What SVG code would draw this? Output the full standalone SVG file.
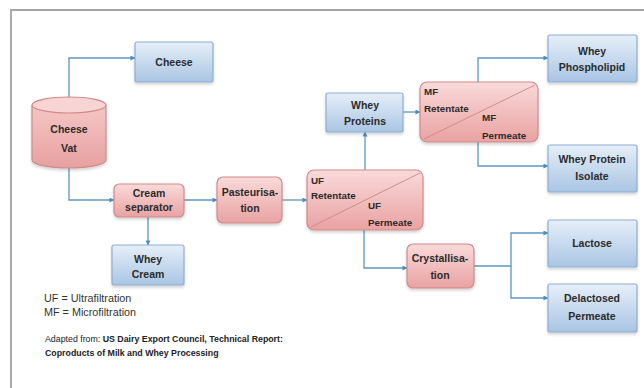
<svg xmlns="http://www.w3.org/2000/svg" width="644" height="388" viewBox="0 0 644 388">
  <defs>
    <linearGradient id="gBlue" x1="0" y1="0" x2="0" y2="1">
      <stop offset="0" stop-color="#e6eff9"/>
      <stop offset="1" stop-color="#a9c5e3"/>
    </linearGradient>
    <linearGradient id="gPink" x1="0" y1="0" x2="0" y2="1">
      <stop offset="0" stop-color="#fadada"/>
      <stop offset="1" stop-color="#e9a2a2"/>
    </linearGradient>
    <linearGradient id="gCyl" x1="0" y1="0" x2="0" y2="1">
      <stop offset="0" stop-color="#f6c6c6"/>
      <stop offset="1" stop-color="#e7a0a0"/>
    </linearGradient>
    <marker id="arr" viewBox="0 0 6 6" refX="5.5" refY="3" markerWidth="5" markerHeight="5" orient="auto" markerUnits="userSpaceOnUse">
      <path d="M0,0 L6,3 L0,6 z" fill="#4f8fbd"/>
    </marker>
    <filter id="sh" x="-10%" y="-10%" width="125%" height="130%">
      <feGaussianBlur in="SourceAlpha" stdDeviation="1.5"/>
      <feOffset dx="0" dy="2" result="b"/>
      <feComponentTransfer><feFuncA type="linear" slope="0.18"/></feComponentTransfer>
      <feMerge><feMergeNode/><feMergeNode in="SourceGraphic"/></feMerge>
    </filter>
  </defs>
  <style>
    .blue { fill: url(#gBlue); stroke: #8eaed3; stroke-width: 1.2; filter: url(#sh); }
    .pink { fill: url(#gPink); stroke: #cf8a8a; stroke-width: 1.2; filter: url(#sh); }
    .lbl { font-family: "Liberation Sans", Arial, sans-serif; font-weight: bold; font-size: 10.5px; fill: #2b2b2b; text-anchor: middle; }
    .lbs { font-family: "Liberation Sans", Arial, sans-serif; font-weight: bold; font-size: 9.8px; fill: #2b2b2b; }
    .conn path { fill: none; stroke: #5a98c4; stroke-width: 1.3; }
    .note { font-family: "Liberation Sans", Arial, sans-serif; font-size: 10.8px; fill: #333; }
    .ref { font-family: "Liberation Sans", Arial, sans-serif; font-size: 8.8px; fill: #222; }
  </style>

  <rect x="0" y="0" width="644" height="388" fill="#ffffff"/>
  <!-- page frame -->
  <path d="M11,388 V10 H644" fill="none" stroke="#a3a3a3" stroke-width="1.8"/>

  <!-- connectors -->
  <g id="connectors" class="conn">
    <path d="M69,97 V58 H135" marker-end="url(#arr)"/>
    <path d="M69,168 V200 H114" marker-end="url(#arr)"/>
    <path d="M184,200 H217" marker-end="url(#arr)"/>
    <path d="M282,200 H307" marker-end="url(#arr)"/>
    <path d="M148,217 V245" marker-end="url(#arr)"/>
    <path d="M365,170 V132" marker-end="url(#arr)"/>
    <path d="M403,112 H420" marker-end="url(#arr)"/>
    <path d="M478,82 V58 H548" marker-end="url(#arr)"/>
    <path d="M478,142 V166 H548" marker-end="url(#arr)"/>
    <path d="M364,230 V268 H407" marker-end="url(#arr)"/>
    <path d="M474,266 H511 V233 H548" marker-end="url(#arr)"/>
    <path d="M511,266 V298 H548" marker-end="url(#arr)"/>
  </g>

  <!-- Cheese Vat -->
  <g id="cheese-vat">
    <path d="M32,105 V160 A37,8 0 0 0 106,160 V105" fill="url(#gCyl)" stroke="#cf8a8a" stroke-width="1.2" filter="url(#sh)"/>
    <ellipse cx="69" cy="105" rx="37" ry="8" fill="#f9d4d4" stroke="#cf8a8a" stroke-width="1.2"/>
    <text class="lbl" x="69" y="133" font-size="12.5">Cheese</text>
    <text class="lbl" x="69" y="152" font-size="12.5">Vat</text>
  </g>

  <g id="cheese">
    <rect class="blue" x="135" y="42" width="78" height="40" rx="2"/>
    <text class="lbl" x="174" y="66">Cheese</text>
  </g>

  <g id="cream-separator">
    <rect class="pink" x="114" y="184" width="70" height="33" rx="5"/>
    <text class="lbl" x="149" y="197">Cream</text>
    <text class="lbl" x="149" y="211">separator</text>
  </g>

  <g id="whey-cream">
    <rect class="blue" x="112" y="245" width="72" height="40" rx="2"/>
    <text class="lbl" x="148" y="263">Whey</text>
    <text class="lbl" x="148" y="278">Cream</text>
  </g>

  <g id="pasteurisation">
    <rect class="pink" x="217" y="177" width="65" height="46" rx="6"/>
    <text class="lbl" x="250" y="196">Pasteurisa-</text>
    <text class="lbl" x="250" y="212">tion</text>
  </g>

  <g id="uf">
    <rect class="pink" x="307" y="170" width="116" height="60" rx="7"/>
    <line x1="311" y1="227" x2="420" y2="173" stroke="#c98888" stroke-width="0.9"/>
    <text class="lbs" x="311" y="184">UF</text>
    <text class="lbs" x="311" y="199">Retentate</text>
    <text class="lbs" x="368" y="209">UF</text>
    <text class="lbs" x="368" y="226">Permeate</text>
  </g>

  <g id="whey-proteins">
    <rect class="blue" x="326" y="93" width="77" height="39" rx="2"/>
    <text class="lbl" x="365" y="109">Whey</text>
    <text class="lbl" x="365" y="125">Proteins</text>
  </g>

  <g id="mf">
    <rect class="pink" x="420" y="82" width="118" height="60" rx="7"/>
    <line x1="424" y1="139" x2="535" y2="85" stroke="#c98888" stroke-width="0.9"/>
    <text class="lbs" x="424" y="95">MF</text>
    <text class="lbs" x="424" y="112">Retentate</text>
    <text class="lbs" x="482" y="121">MF</text>
    <text class="lbs" x="482" y="139">Permeate</text>
  </g>

  <g id="whey-phospholipid">
    <rect class="blue" x="548" y="35" width="89" height="47" rx="2"/>
    <text class="lbl" x="592" y="55">Whey</text>
    <text class="lbl" x="592" y="71">Phospholipid</text>
  </g>

  <g id="whey-protein-isolate">
    <rect class="blue" x="548" y="145" width="89" height="47" rx="2"/>
    <text class="lbl" x="592" y="163">Whey Protein</text>
    <text class="lbl" x="592" y="180">Isolate</text>
  </g>

  <g id="crystallisation">
    <rect class="pink" x="407" y="244" width="67" height="44" rx="6"/>
    <text class="lbl" x="440" y="262">Crystallisa-</text>
    <text class="lbl" x="440" y="279">tion</text>
  </g>

  <g id="lactose">
    <rect class="blue" x="548" y="220" width="89" height="47" rx="2"/>
    <text class="lbl" x="592" y="247">Lactose</text>
  </g>

  <g id="delactosed-permeate">
    <rect class="blue" x="548" y="284" width="89" height="48" rx="2"/>
    <text class="lbl" x="592" y="302">Delactosed</text>
    <text class="lbl" x="592" y="320">Permeate</text>
  </g>

  <!-- legend and source -->
  <g id="legend">
    <text class="note" x="44" y="302">UF = Ultrafiltration</text>
    <text class="note" x="44" y="316">MF = Microfiltration</text>
    <text class="ref" x="45" y="342">Adapted from: <tspan font-weight="bold">US Dairy Export Council, Technical Report:</tspan></text>
    <text class="ref" x="45" y="356" font-weight="bold">Coproducts of Milk and Whey Processing</text>
  </g>
</svg>
